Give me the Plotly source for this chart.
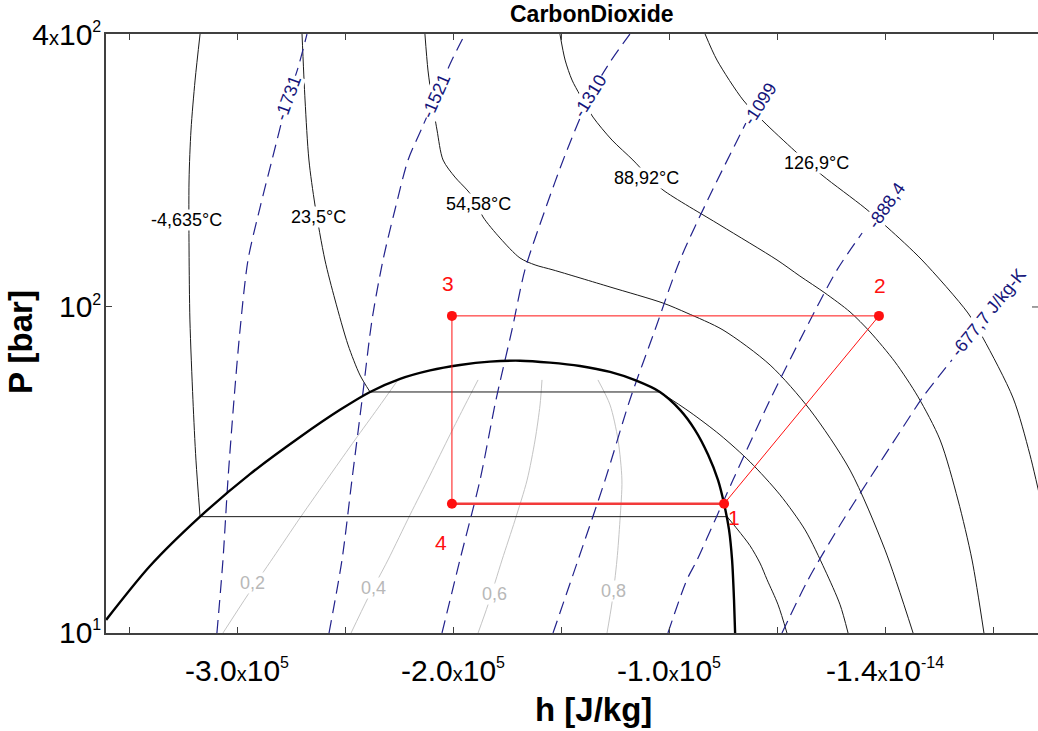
import math
import plotly.graph_objects as go

FONT = "Liberation Sans, Arial, Helvetica, sans-serif"

# ---------------- axes ----------------
h_range = [-360650, 70830]
P_range = [15.3, 481.6]
h_tick_vals = [-350000, -300000, -250000, -200000, -150000, -100000, -50000, 0, 50000]
h_tick_text = ["", "-3.0x10^5", "", "-2.0x10^5", "", "-1.0x10^5", "", "-1.4x10^-14", ""]
P_tick_vals = [15.35, 100, 481.0]
P_tick_text = ["10^1", "10^2", "4x10^2"]

# ---------------- saturation dome ----------------
sat_h = [-360600, -340300, -317100, -294000, -270800, -252300, -238400, -224500, -210600, -196800,
         -182900, -169000, -155100, -141200, -127300, -115700, -104200, -94900, -88000, -81900,
         -77300, -74500, -72200, -70800, -69900, -69400]
sat_P = [16.5, 22.5, 29.9, 38.2, 47.3, 55.3, 61.3, 66.1, 69.4, 71.6,
         73.0, 73.4, 72.6, 71.2, 68.8, 65.6, 61.3, 55.3, 49.3, 42.7,
         36.9, 32.2, 27.7, 23.3, 18.5, 15.3]

# ---------------- isotherms ----------------
T1_h = [-317100, -319400, -321300, -322200, -322200, -321800, -320400, -319000, -317100,
        -73100, -68100, -62500, -57900, -54600, -49500, -45400]
T1_P = [481.5, 369.4, 277.0, 207.7, 138.8, 92.8, 58.6, 41.4, 29.9,
        29.9, 27.7, 25.3, 22.9, 20.8, 18.0, 15.3]
T2_h = [-269900, -268500, -266700, -263900, -259300, -254600, -248600, -243100, -238400,
        -104200, -90300, -76400, -62500, -48600, -37000, -27800, -20800, -17100]
T2_P = [481.5, 329.3, 233.1, 179.9, 131.1, 104.1, 80.4, 67.6, 61.3,
        61.3, 54.6, 47.9, 41.0, 33.9, 27.7, 22.0, 18.0, 15.3]
T3_h = [-213000, -211600, -209700, -207400, -204600, -199100, -193500, -189800, -186100, -178200,
        -169000, -162000, -153700, -127300, -102800, -91700, -75000, -53200, -34700, -16200, 0, 13000]
T3_P = [481.5, 391.3, 329.3, 277.0, 233.1, 211.3, 196.2, 185.1, 167.9, 148.7,
        132.6, 127.4, 123.8, 112.2, 102.3, 96.6, 87.6, 71.6, 55.3, 39.1, 24.7, 15.3]
T4_h = [-150500, -148100, -144900, -141200, -135200, -126400, -116700, -109700, -102800, -76400,
        -50000, -39400, -27800, -16200, -6900, 4600, 15300, 25500, 33800, 40300, 45800]
T4_P = [481.5, 414.5, 369.4, 338.8, 298.5, 261.5, 233.1, 212.6, 196.2, 160.3,
        131.1, 119.5, 108.4, 97.2, 86.6, 72.9, 59.6, 46.5, 32.9, 23.3, 15.3]
T5_h = [-83300, -77800, -65700, -56500, -41700, -29200, -9300, 1400, 17100, 38400, 45400, 59300, 67100, 74100]
T5_P = [481.5, 414.5, 329.3, 291.7, 245.5, 213.8, 176.8, 157.6, 131.1, 96.6, 83.6, 59.2, 42.7, 29.3]
T_labels = ["-4,635°C", "23,5°C", "54,58°C", "88,92°C", "126,9°C"]
T_label_h = [-323600, -262500, -188400, -110200, -31500]
T_label_P = [165.0, 167.9, 180.9, 210.2, 229.1]

# ---------------- isentropes ----------------
S1_h = [-309300, -306500, -304200, -301400, -298600, -294900, -289400, -283800, -276400, -271800, -267600]
S1_P = [15.3, 23.3, 36.9, 58.6, 87.6, 131.1, 176.8, 233.1, 333.1, 395.8, 481.5]
S2_h = [-257400, -251400, -246800, -242100, -237500, -232400, -226900, -220800, -214400, -207900, -200500, -194400]
S2_P = [15.3, 23.3, 36.9, 58.6, 92.8, 131.1, 174.8, 233.1, 280.2, 337.0, 414.5, 481.5]
S3_h = [-205100, -196800, -187500, -180100, -172700, -166700, -157400, -148100, -136600, -127300, -118100]
S3_P = [15.3, 23.3, 36.9, 58.6, 87.6, 123.8, 174.8, 239.9, 337.0, 409.7, 481.5]
S4_h = [-153700, -142100, -129600, -118100, -106500, -94900, -81000, -64400]
S4_P = [15.3, 23.3, 36.9, 58.6, 87.6, 131.1, 190.5, 288.4]
S5_h = [-100500, -91700, -87000, -78700, -70400, -53200, -37000, -22200, -10600]
S5_P = [15.3, 20.8, 23.3, 29.3, 36.9, 58.6, 87.6, 123.8, 153.1]
S6_h = [-47700, -35600, -20800, -6900, 6900, 17600, 31000]
S6_P = [15.3, 20.8, 28.5, 37.4, 48.7, 59.6, 73.7]
S_labels = ["-1731", "-1521", "-1310", "-1099", "-888,4", "-677,7 J/kg-K"]
S_label_h = [-276400, -207900, -136600, -57900, 500, 47700]
S_label_P = [333.1, 337.0, 337.0, 321.7, 178.9, 96.6]
S_label_angle = [-70, -66, -58, -57, -55, -51]

# ---------------- quality lines ----------------
X1_h = [-306500, -294900, -283300, -270800, -256900, -245400, -234700, -225500]
X1_P = [15.3, 19.1, 23.6, 29.7, 38.0, 46.5, 55.9, 65.7]
X2_h = [-247200, -239400, -230100, -219900, -210600, -201400, -194400, -188400]
X2_P = [15.3, 18.7, 23.3, 30.2, 38.0, 47.9, 56.9, 65.7]
X3_h = [-188400, -183800, -177300, -171300, -165700, -162000, -159700, -158800]
X3_P = [15.3, 18.0, 23.3, 29.3, 36.9, 46.5, 56.9, 65.7]
X4_h = [-128700, -126400, -124100, -122700, -121800, -123600, -127300, -132900]
X4_P = [15.3, 18.2, 23.3, 29.3, 36.9, 46.5, 56.9, 65.7]
X_labels = ["0,2", "0,4", "0,6", "0,8"]
X_label_h = [-292600, -237000, -181000, -125900]
X_label_P = [20.4, 19.8, 19.2, 19.5]

# ---------------- cycle states ----------------
cycle_state = ["1", "2", "3", "4"]
cycle_h = [-74500, -2800, -200500, -200500]
cycle_P = [32.2, 95.0, 95.0, 32.2]

# =========================================================
ISO_COLOR = "#1a1a1a"
S_COLOR = "#22228c"
S_TEXT = "#14147a"
X_COLOR = "#c4c4c4"
RED = "#ff1010"
AXIS_COLOR = "#404040"

fig = go.Figure()


def add_curve(h, P, color, width, dash=None):
    """Draw a curve; constant-pressure plateaus are drawn straight."""
    segs = []
    ch, cp = [h[0]], [P[0]]
    for i in range(1, len(h)):
        if P[i] == P[i - 1]:
            segs.append((ch, cp, "spline"))
            segs.append(([h[i - 1], h[i]], [P[i - 1], P[i]], "linear"))
            ch, cp = [h[i]], [P[i]]
        else:
            ch.append(h[i])
            cp.append(P[i])
    segs.append((ch, cp, "spline"))
    for sh, sp, shape in segs:
        if len(sh) < 2:
            continue
        line = dict(color=color, width=width, shape=shape)
        if shape == "spline":
            line["smoothing"] = 0.8
        if dash:
            line["dash"] = dash
        fig.add_trace(go.Scatter(x=sh, y=sp, mode="lines", line=line,
                                 hoverinfo="skip", showlegend=False))


for xh, xp in [(X1_h, X1_P), (X2_h, X2_P), (X3_h, X3_P), (X4_h, X4_P)]:
    add_curve(xh, xp, X_COLOR, 1)

for th, tp in [(T1_h, T1_P), (T2_h, T2_P), (T3_h, T3_P), (T4_h, T4_P), (T5_h, T5_P)]:
    add_curve(th, tp, ISO_COLOR, 1)

for sh, sp in [(S1_h, S1_P), (S2_h, S2_P), (S3_h, S3_P), (S4_h, S4_P), (S5_h, S5_P), (S6_h, S6_P)]:
    add_curve(sh, sp, S_COLOR, 1.2, dash="13px,7px")

add_curve(sat_h, sat_P, "#000000", 2.4)

# cycle: 1-2-3-4 thin, 4-1 thick
fig.add_trace(go.Scatter(x=cycle_h, y=cycle_P, mode="lines",
                         line=dict(color=RED, width=1), hoverinfo="skip", showlegend=False))
fig.add_trace(go.Scatter(x=[cycle_h[3], cycle_h[0]], y=[cycle_P[3], cycle_P[0]], mode="lines",
                         line=dict(color="#f23a3a", width=2.5), hoverinfo="skip", showlegend=False))
fig.add_trace(go.Scatter(x=cycle_h, y=cycle_P, mode="markers",
                         marker=dict(color=RED, size=10), hoverinfo="skip", showlegend=False))

ann = []
for t, hh, pp in zip(T_labels, T_label_h, T_label_P):
    ann.append(dict(x=hh, y=math.log10(pp), xref="x", yref="y", text=t, showarrow=False,
                    font=dict(family=FONT, size=18, color="#000000"), bgcolor="white", borderpad=0))
for t, hh, pp, a in zip(S_labels, S_label_h, S_label_P, S_label_angle):
    ann.append(dict(x=hh, y=math.log10(pp), xref="x", yref="y", text=t, showarrow=False, textangle=a,
                    font=dict(family=FONT, size=18, color=S_TEXT), bgcolor="white", borderpad=0))
for t, hh, pp in zip(X_labels, X_label_h, X_label_P):
    ann.append(dict(x=hh, y=math.log10(pp), xref="x", yref="y", text=t, showarrow=False,
                    font=dict(family=FONT, size=18, color="#b8b8b8"), bgcolor="white", borderpad=0))
state_shift = [(10, -14), (1, 30), (-4, 32), (-11, -39)]
for t, hh, pp, (dx, dy) in zip(cycle_state, cycle_h, cycle_P, state_shift):
    ann.append(dict(x=hh, y=math.log10(pp), xref="x", yref="y", text=t, showarrow=False,
                    xshift=dx, yshift=dy, font=dict(family=FONT, size=21, color=RED)))

# titles (paper coords, explicit anchors)
ann.append(dict(x=0.5215, y=1.0334, xref="paper", yref="paper", xanchor="center", yanchor="middle",
                text="<b>CarbonDioxide</b>", showarrow=False,
                font=dict(family=FONT, size=23, color="#000000")))
ann.append(dict(x=0.5236, y=-0.1285, xref="paper", yref="paper", xanchor="center", yanchor="middle",
                text="<b>h [J/kg]</b>", showarrow=False,
                font=dict(family=FONT, size=33, color="#000000")))
ann.append(dict(x=-0.0923, y=0.4858, xref="paper", yref="paper", xanchor="center", yanchor="middle",
                text="<b>P [bar]</b>", textangle=-90, showarrow=False,
                font=dict(family=FONT, size=33, color="#000000")))


def tick_html(t):
    if "^" not in t:
        return t
    pre, exp = t.split("^")
    pre = pre.replace("x", "<span style='font-size:20px'>x</span>")
    return pre + "<sup><span style='font-size:16px'>" + exp + "</span></sup>"


axis_common = dict(showline=True, linecolor=AXIS_COLOR, linewidth=1.5,
                   ticks="inside", ticklen=6, tickwidth=1, tickcolor=AXIS_COLOR,
                   showgrid=False, zeroline=False,
                   tickfont=dict(family=FONT, size=30, color="#000000"))

# the right frame lies just outside the picture; only its inner tick at 10^2 shows
y_lo, y_hi = math.log10(P_range[0]), math.log10(P_range[1])
tick100 = (math.log10(P_tick_vals[1]) - y_lo) / (y_hi - y_lo)
shapes = [dict(type="line", xref="paper", yref="paper", x0=1 - 6 / 932, x1=1.0, y0=tick100, y1=tick100,
               line=dict(color=AXIS_COLOR, width=1))]

fig.update_layout(
    width=1038, height=731,
    margin=dict(l=106, r=0, t=34, b=98),
    plot_bgcolor="white", paper_bgcolor="white",
    showlegend=False,
    annotations=ann,
    shapes=shapes,
    xaxis=dict(range=h_range, tickmode="array", tickvals=h_tick_vals, mirror="ticks",
               ticktext=[tick_html(t) for t in h_tick_text], ticklabelstandoff=10, **axis_common),
    yaxis=dict(type="log", range=[y_lo, y_hi], tickmode="array", mirror=False,
               tickvals=P_tick_vals, ticktext=[tick_html(t) for t in P_tick_text],
               ticklabelstandoff=-3, **axis_common),
)

fig.write_html("out.html")
